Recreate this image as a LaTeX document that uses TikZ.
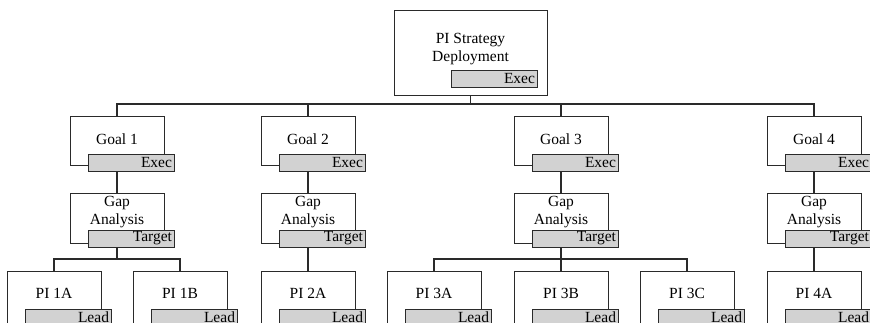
\documentclass[tikz,border=0pt]{standalone}
\usepackage{fontspec}
\setmainfont{Liberation Serif}
\definecolor{tabgray}{HTML}{D2D2D2}
\definecolor{edge}{HTML}{2A2A2A}
\begin{document}
\begin{tikzpicture}[x=1pt,y=-1pt,
  font=\fontsize{15.5}{18}\selectfont,
  box/.style={draw=edge, line width=0.8pt, fill=white, minimum width=94pt, minimum height=49pt, inner sep=0pt},
  tab/.style={draw=edge, line width=0.8pt, fill=tabgray, text width=82pt, minimum height=17pt, inner xsep=2pt, inner ysep=0pt, align=right, anchor=south east},
  lbl/.style={align=center, inner sep=0pt},
  conn/.style={draw=edge, line width=1.3pt}]
\useasboundingbox (0,0) rectangle (870,323);
\clip (0,0) rectangle (870,323);
% top
\node[box, minimum width=153pt, minimum height=85pt] (top) at (470.5,52.5) {};
\node[lbl] (topt) at (470.5,49) {PI Strategy\\Deployment};
% goals
\foreach \n/\x in {1/117,2/308,3/561,4/814}{
  \node[box] (g\n) at (\x,140.5) {};
  \node[lbl] (g\n t) at (\x,139) {Goal \n};
  \node[box, minimum height=50pt] (a\n) at (\x,218) {};
  \node[lbl] (a\n t) at (\x,212) {Gap\\Analysis};
}
% PIs
\foreach \nm/\x in {1A/54,1B/180,2A/308,3A/434,3B/561,3C/687,4A/814}{
  \node[box, minimum height=60pt] (p\nm) at (\x,301) {};
  \node[lbl] (p\nm t) at (\x,293) {PI \nm};
}
% connectors
\coordinate (bus) at (470.5,104);
\draw[conn] (top.south) -- (bus);
\foreach \n in {1,2,3,4}{
  \draw[conn] (bus) -| (g\n.north);
  \draw[conn] (g\n.south) -- (a\n.north);
}
\coordinate (b1) at (117,259);
\coordinate (b3) at (561,259);
\draw[conn] (a1.south) -- (b1);
\draw[conn] (b1) -| (p1A.north);
\draw[conn] (b1) -| (p1B.north);
\draw[conn] (a2.south) -- (p2A.north);
\draw[conn] (a3.south) -- (b3);
\draw[conn] (b3) -| (p3A.north);
\draw[conn] (b3) -- (p3B.north);
\draw[conn] (b3) -| (p3C.north);
\draw[conn] (a4.south) -- (p4A.north);
% tabs
\node[tab] (topx) at ([xshift=-10pt,yshift=8pt]top.south east) {Exec};
\foreach \n in {1,2,3,4}{
  \node[tab] (g\n x) at ([xshift=10pt,yshift=-6pt]g\n.south east) {Exec};
  \node[tab] (a\n x) at ([xshift=10pt,yshift=-4pt]a\n.south east) {Target};
}
\foreach \nm in {1A,1B,2A,3A,3B,3C,4A}{
  \node[tab, anchor=north east] (p\nm x) at ([xshift=10pt,yshift=-38pt]p\nm.north east) {Lead};
}
\end{tikzpicture}
\end{document}
